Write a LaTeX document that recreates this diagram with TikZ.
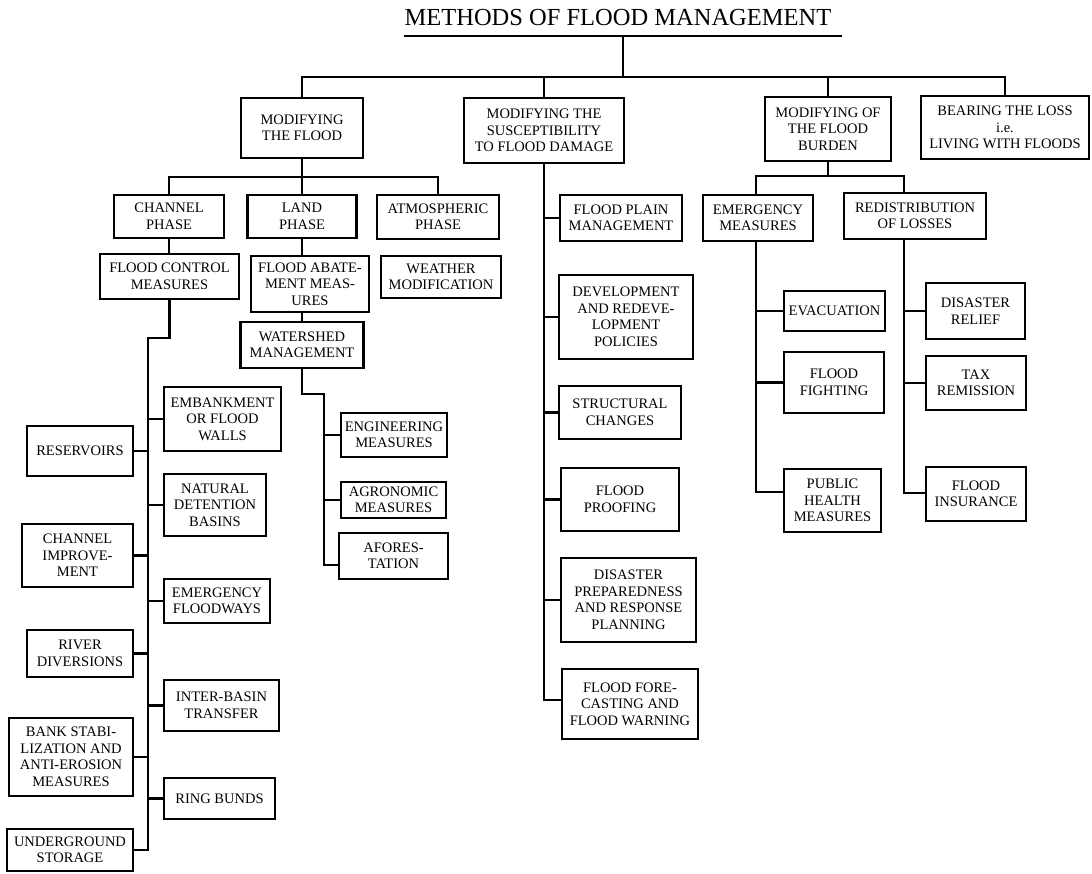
\documentclass[tikz,border=0pt]{standalone}
\usepackage{fontspec}
\setmainfont{Liberation Serif}
\begin{document}
\begin{tikzpicture}[x=1pt,y=-1pt,
  line width=2.6pt, line cap=rect,
  box/.style={draw, line width=2.6pt, align=center, inner sep=0pt,
    font=\fontsize{14.5}{16.5}\selectfont},
  link/.style={draw, line width=2.6pt}]
\useasboundingbox (0,0) rectangle (1092,873);
% title
\node[anchor=base, inner sep=0pt, font=\fontsize{24.5}{28}\selectfont] (title) at (618,25) {METHODS OF FLOOD MANAGEMENT};
\coordinate (ulA) at (404,36);
\coordinate (ulB) at (842,36);
\draw[line cap=butt] (ulA) -- (ulB);
\coordinate (stemTop) at (623,36);
\coordinate (barY) at (0,77);
% level 1
\node[box, minimum width=122pt, minimum height=60pt] (flood) at (302,128) {MODIFYING\\THE FLOOD};
\node[box, minimum width=160pt, minimum height=65pt] (suscept) at (544,130.5) {MODIFYING THE\\SUSCEPTIBILITY\\TO FLOOD DAMAGE};
\node[box, minimum width=126pt, minimum height=64pt] (burden) at (828,129) {MODIFYING OF\\THE FLOOD\\BURDEN};
\node[box, minimum width=168pt, minimum height=63pt] (bearing) at (1005,127.5) {BEARING THE LOSS\\i.e.\\LIVING WITH FLOODS};
\draw (stemTop) -- (stemTop |- barY);
\draw (flood.north) |- (bearing.north |- barY) -- (bearing.north);
\draw (suscept.north) -- (suscept.north |- barY);
\draw (burden.north) -- (burden.north |- barY);
% level 2 under flood
\coordinate (bar2) at (0,177);
\node[box, minimum width=110pt, minimum height=43pt] (channel) at (169,216.5) {CHANNEL\\PHASE};
\node[box, minimum width=109pt, minimum height=43pt] (land) at (302,216.5) {LAND\\PHASE};
\node[box, minimum width=122pt, minimum height=44pt] (atmos) at (438,217) {ATMOSPHERIC\\PHASE};
\draw (flood.south) -- (flood.south |- bar2);
\draw (channel.north) |- (atmos.north |- bar2) -- (atmos.north);
\draw (land.north) -- (land.north |- bar2);
% level 3
\node[box, minimum width=139pt, minimum height=45pt] (fcm) at (169.5,276.5) {FLOOD CONTROL\\MEASURES};
\node[box, minimum width=118pt, minimum height=56pt] (fam) at (310,284) {FLOOD ABATE-\\MENT MEAS-\\URES};
\node[box, minimum width=120pt, minimum height=42pt] (weather) at (441,277) {WEATHER\\MODIFICATION};
\node[box, minimum width=123pt, minimum height=46pt] (ws) at (302,345) {WATERSHED\\MANAGEMENT};
\draw (channel.south) -- (channel.south |- fcm.north);
\draw (land.south) -- (land.south |- fam.north);
\draw (ws.north) -- (ws.north |- fam.south);
% channel phase column
\coordinate (cTop) at (148,338);
\coordinate (cBot) at (148,850);
\draw (fcm.south) |- (cTop) -- (cBot);
\node[box, minimum width=106pt, minimum height=50pt] (res) at (80,451) {RESERVOIRS};
\node[box, minimum width=111pt, minimum height=63pt] (chimp) at (77.5,555.5) {CHANNEL\\IMPROVE-\\MENT};
\node[box, minimum width=106pt, minimum height=47pt] (river) at (80,653.5) {RIVER\\DIVERSIONS};
\node[box, minimum width=124pt, minimum height=78pt] (bank) at (71,757) {BANK STABI-\\LIZATION AND\\ANTI-EROSION\\MEASURES};
\node[box, minimum width=126pt, minimum height=42pt] (under) at (70,850) {UNDERGROUND\\STORAGE};
\node[box, minimum width=117pt, minimum height=64pt] (emb) at (222.5,419) {EMBANKMENT\\OR FLOOD\\WALLS};
\node[box, minimum width=102pt, minimum height=62pt] (natural) at (215,505) {NATURAL\\DETENTION\\BASINS};
\node[box, minimum width=106pt, minimum height=44pt] (efw) at (217,601) {EMERGENCY\\FLOODWAYS};
\node[box, minimum width=115pt, minimum height=51pt] (inter) at (221.5,705.5) {INTER-BASIN\\TRANSFER};
\node[box, minimum width=111pt, minimum height=41pt] (ring) at (219.5,798.5) {RING BUNDS};
\foreach \n in {res,chimp,river,bank,under} \draw (\n.east) -- (\n.east -| cTop);
\foreach \n in {emb,natural,efw,inter,ring} \draw (\n.west) -- (\n.west -| cTop);
% watershed column
\coordinate (wTop) at (324,394);
\coordinate (wBot) at (324,565);
\draw (ws.south) |- (wTop) -- (wBot);
\node[box, minimum width=106pt, minimum height=44pt] (eng) at (394,435) {ENGINEERING\\MEASURES};
\node[box, minimum width=105pt, minimum height=36pt] (agro) at (393.5,500) {AGRONOMIC\\MEASURES};
\node[box, minimum width=109pt, minimum height=46pt] (afor) at (393.5,556) {AFORES-\\TATION};
\draw (eng.west) -- (eng.west -| wTop);
\draw (agro.west) -- (agro.west -| wTop);
\draw (wBot) -- (afor.west |- wBot);
% susceptibility column
\coordinate (sBot) at (544,700);
\draw (suscept.south) -- (sBot);
\node[box, minimum width=122pt, minimum height=46pt] (fpm) at (621,218) {FLOOD PLAIN\\MANAGEMENT};
\node[box, minimum width=134pt, minimum height=84pt] (dev) at (626,317) {DEVELOPMENT\\AND REDEVE-\\LOPMENT\\POLICIES};
\node[box, minimum width=122pt, minimum height=53pt] (struct) at (620,412.5) {STRUCTURAL\\CHANGES};
\node[box, minimum width=118pt, minimum height=63pt] (proof) at (620,499.5) {FLOOD\\PROOFING};
\node[box, minimum width=135pt, minimum height=84pt] (disprep) at (628.5,600) {DISASTER\\PREPAREDNESS\\AND RESPONSE\\PLANNING};
\node[box, minimum width=136pt, minimum height=70pt] (forecast) at (630,704) {FLOOD FORE-\\CASTING AND\\FLOOD WARNING};
\foreach \n in {fpm,dev,struct,proof,disprep} \draw (\n.west) -- (\n.west -| sBot);
\draw (sBot) -- (forecast.west |- sBot);
% burden
\coordinate (bar3) at (0,176);
\node[box, minimum width=110pt, minimum height=46pt] (emerg) at (758,218) {EMERGENCY\\MEASURES};
\node[box, minimum width=142pt, minimum height=46pt] (redist) at (915,216) {REDISTRIBUTION\\OF LOSSES};
\coordinate (eTop) at (756,241);
\coordinate (eBot) at (756,492);
\coordinate (rTop) at (904,239);
\coordinate (rBot) at (904,493);
\draw (burden.south) -- (burden.south |- bar3);
\draw (eTop |- emerg.north) |- (rTop |- bar3) -- (rTop |- redist.north);
\draw (eTop) -- (eBot);
\draw (rTop) -- (rBot);
\node[box, minimum width=101pt, minimum height=40pt] (evac) at (834.5,311) {EVACUATION};
\node[box, minimum width=100pt, minimum height=61pt] (fight) at (834,382.5) {FLOOD\\FIGHTING};
\node[box, minimum width=97pt, minimum height=63pt] (health) at (832.5,500.5) {PUBLIC\\HEALTH\\MEASURES};
\node[box, minimum width=99pt, minimum height=56pt] (relief) at (975.5,311) {DISASTER\\RELIEF};
\node[box, minimum width=100pt, minimum height=54pt] (tax) at (976,383) {TAX\\REMISSION};
\node[box, minimum width=100pt, minimum height=54pt] (insur) at (976,494) {FLOOD\\INSURANCE};
\draw (evac.west) -- (evac.west -| eTop);
\draw (fight.west) -- (fight.west -| eTop);
\draw (eBot) -- (health.west |- eBot);
\draw (relief.west) -- (relief.west -| rTop);
\draw (tax.west) -- (tax.west -| rTop);
\draw (rBot) -- (insur.west |- rBot);
\end{tikzpicture}
\end{document}
